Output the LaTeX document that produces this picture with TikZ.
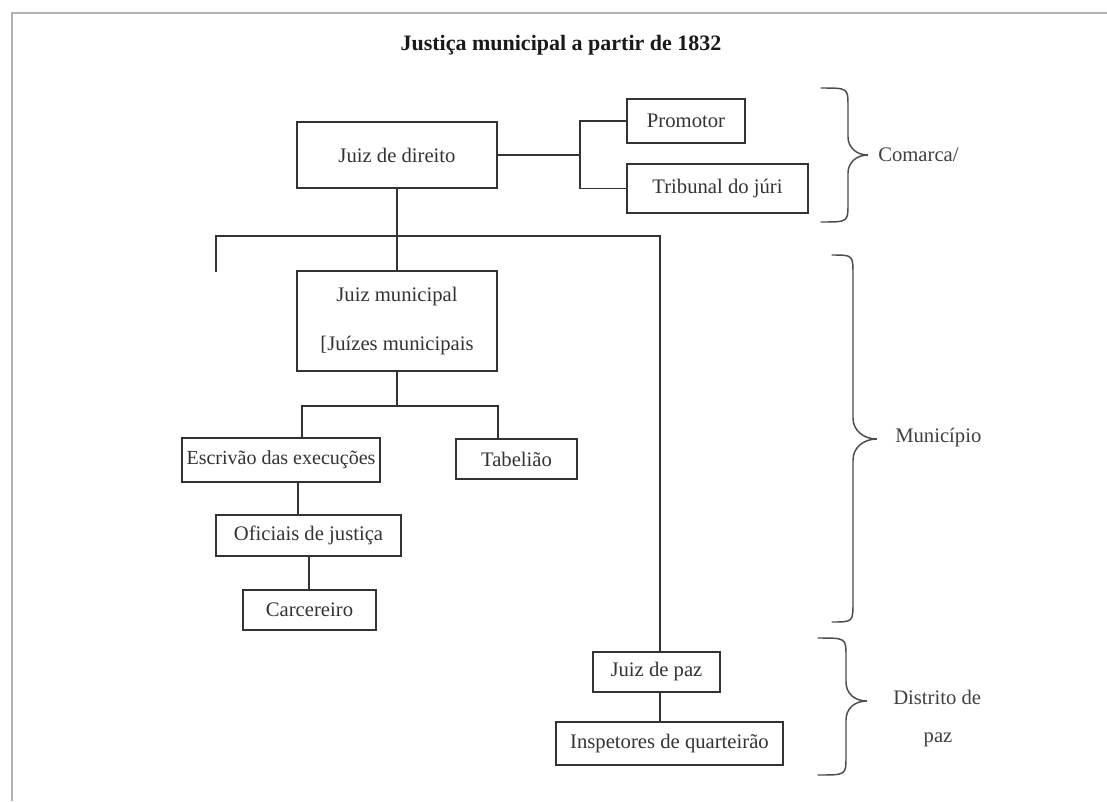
\documentclass[tikz,border=0pt]{standalone}
\usepackage{fontspec}
\setmainfont{Liberation Serif}
\begin{document}
\begin{tikzpicture}[x=0.75pt,y=-0.75pt,
  box/.style={draw=black!80, line width=1.1pt, rectangle, inner sep=0pt,
    font=\fontsize{15.5}{18}\selectfont, text=black!80},
  conn/.style={draw=black!80, line width=1.1pt},
  brc/.style={draw=black!70, line width=1.1pt, line cap=round},
  lab/.style={font=\fontsize{15.5}{18}\selectfont, text=black!75, inner sep=0pt},
  frame/.style={draw=black!30, line width=2pt}]
\useasboundingbox[fill=white] (0,0) rectangle (1107,801);
% page edge
\draw[frame] (12,801) -- (12,13) -- (1107,13);
% title
\node[font=\bfseries\fontsize{16.5}{20}\selectfont, text=black!90] (title) at (561,45) {Justiça municipal a partir de 1832};
% boxes
\node[box, minimum width=150pt, minimum height=49.5pt] (jdd) at (397,155) {Juiz de direito};
\node[box, minimum width=88.5pt, minimum height=33pt] (prom) at (686,121) {Promotor};
\node[box, minimum width=135.75pt, minimum height=36.75pt] (trib) at (717.5,188.5) {Tribunal do júri};
\node[box, minimum width=150pt, minimum height=75pt, align=center] (jm) at (397,321) {Juiz municipal\\[19pt][Juízes municipais};
\node[box, minimum width=148.5pt, minimum height=33pt, font=\fontsize{15}{18}\selectfont] (esc) at (281,460) {Escrivão das execuções};
\node[box, minimum width=90.75pt, minimum height=30pt] (tab) at (516.5,459) {Tabelião};
\node[box, minimum width=138.75pt, minimum height=30.75pt] (ofi) at (308.5,535.5) {Oficiais de justiça};
\node[box, minimum width=99.75pt, minimum height=30pt] (car) at (309.5,610) {Carcereiro};
\node[box, minimum width=95.25pt, minimum height=30pt] (jp) at (656.5,672) {Juiz de paz};
\node[box, minimum width=170.25pt, minimum height=32.25pt] (insp) at (669.5,743.5) {Inspetores de quarteirão};
% junction coordinates
\coordinate (jc) at (580,155);
\coordinate (bl) at (216,236);
\coordinate (blend) at (216,272);
\coordinate (br) at (660,236);
\coordinate (mb) at (397,406);
\coordinate (el) at (302,406);
\coordinate (er) at (498,406);
\coordinate (ox) at (298,500);
\coordinate (cx) at (309,570);
% connectors
\draw[conn] (jdd.east) -- (jc);
\draw[conn] (prom.west) -| (jc |- trib.west) -- (trib.west);
\draw[conn] (jdd.south) -- (jm.north);
\draw[conn] (blend) -- (bl) -- (br) -- (br |- jp.north);
\draw[conn] (jm.south) -- (mb);
\draw[conn] (el |- esc.north) -- (el) -- (er) -- (er |- tab.north);
\draw[conn] (esc.south -| ox) -- (ofi.north -| ox);
\draw[conn] (ofi.south -| cx) -- (car.north -| cx);
\draw[conn] (jp.south -| br) -- (insp.north -| br);
% braces
\draw[brc] (821,88) .. controls (848,88) .. (848,106) -- (848,137)
  .. controls (848,147) and (856,155) .. (868,155)
  .. controls (856,155) and (848,163) .. (848,173)
  -- (848,204) .. controls (848,222) .. (821,222);
\draw[brc] (832,255) .. controls (853,255) .. (853,275) -- (853,418)
  .. controls (853,430) and (863,439) .. (877,439)
  .. controls (863,439) and (853,448) .. (853,460)
  -- (853,602) .. controls (853,622) .. (832,622);
\draw[brc] (818,638) .. controls (846,638) .. (846,656) -- (846,682)
  .. controls (846,693) and (854,701) .. (867,701)
  .. controls (854,701) and (846,709) .. (846,720)
  -- (846,757) .. controls (846,775) .. (818,775);
% side labels
\node[lab, anchor=west] (comarca) at (878,155) {Comarca/};
\node[lab, anchor=west] (municipio) at (895,438) {Município};
\node[lab, anchor=west] (distrito) at (893,697) {Distrito de};
\node[lab] (paz) at (938,740) {paz};
\end{tikzpicture}
\end{document}
